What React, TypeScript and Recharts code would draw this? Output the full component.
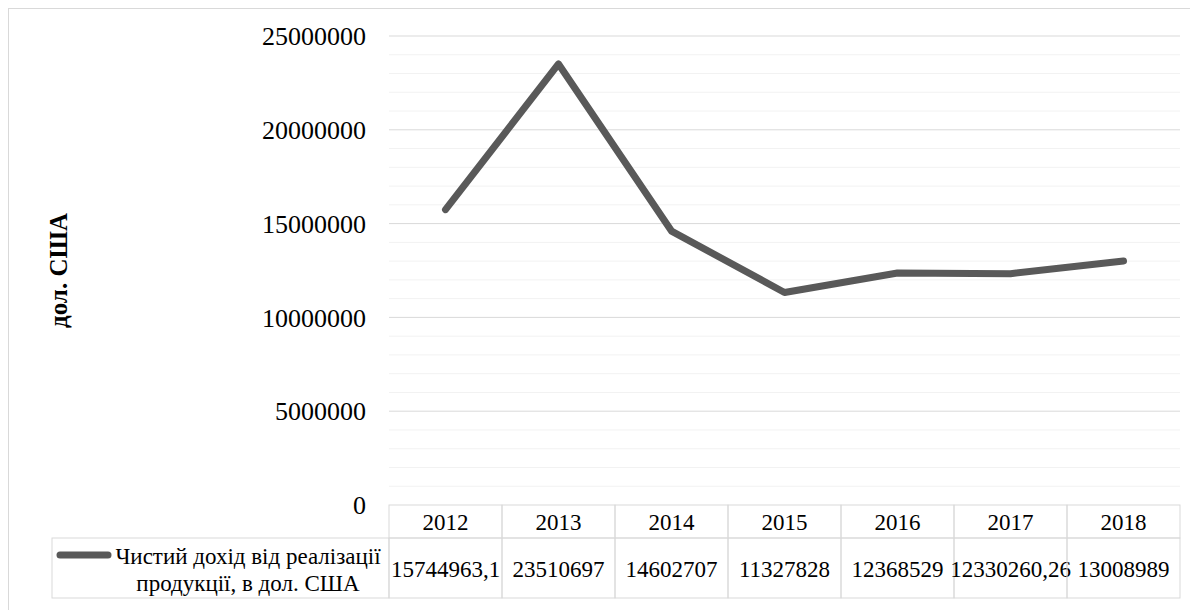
import { LineChart, Line, XAxis, YAxis, CartesianGrid } from "recharts";

const years = ["2012", "2013", "2014", "2015", "2016", "2017", "2018"];
const revenue = [15744963.1, 23510697, 14602707, 11327828, 12368529, 12330260.26, 13008989];
const seriesLines = ["Чистий дохід від реалізації", "продукції, в дол. США"];
const yAxisTitle = "дол. США";
const majorTicks = [0, 5000000, 10000000, 15000000, 20000000, 25000000];
const minorTicks = [
  1000000, 2000000, 3000000, 4000000, 6000000, 7000000, 8000000, 9000000,
  11000000, 12000000, 13000000, 14000000, 16000000, 17000000, 18000000, 19000000,
  21000000, 22000000, 23000000, 24000000,
];

const data = years.map((year, i) => ({ year, value: revenue[i] }));

const FONT = '"Liberation Serif", "Times New Roman", serif';
const LINE_COLOR = "#595959";
const BORDER = "#d9d9d9";
const HEAD_H = 33;
const ROW_H = 60;
const TABLE_FONT = 23;
const PLOT_W = 791;

const fmt = (v: number) => String(v).replace(".", ",");

const txt = { fontFamily: FONT, fontSize: TABLE_FONT };

// draws one column of the data table under the plot
const TableTick = (props: any) => {
  const { x, y, payload } = props;
  const idx = payload?.index ?? props.index ?? 0;
  const half = PLOT_W / years.length / 2;
  const left = x - half;
  const w = half * 2;
  return (
    <g>
      <rect x={left} y={y} width={w} height={HEAD_H} fill="none" stroke={BORDER} />
      <text x={x} y={y + HEAD_H / 2 + 1} textAnchor="middle" dominantBaseline="central" style={txt} fill="#000">
        {payload.value}
      </text>
      <rect x={left} y={y + HEAD_H} width={w} height={ROW_H} fill="none" stroke={BORDER} />
      <text x={x} y={y + HEAD_H + ROW_H / 2 + 1} textAnchor="middle" dominantBaseline="central" style={txt} fill="#000">
        {fmt(revenue[idx])}
      </text>
      {idx === 0 && (
        <g>
          <rect x={43} y={y + HEAD_H} width={left - 43} height={ROW_H} fill="none" stroke={BORDER} />
          <line x1={51} x2={99} y1={y + HEAD_H + 17} y2={y + HEAD_H + 17} stroke={LINE_COLOR} strokeWidth={7} strokeLinecap="round" />
          <text x={239} y={y + HEAD_H + 18} textAnchor="middle" dominantBaseline="central" style={txt} fill="#000">
            {seriesLines[0]}
          </text>
          <text x={239} y={y + HEAD_H + 45} textAnchor="middle" dominantBaseline="central" style={txt} fill="#000">
            {seriesLines[1]}
          </text>
        </g>
      )}
    </g>
  );
};

const AxisTitle = (props: any) => {
  const vb = props.viewBox || {};
  const cx = 49;
  const cy = (vb.y ?? 27) + (vb.height ?? 469) / 2;
  return (
    <text
      x={cx}
      y={cy}
      transform={`rotate(-90, ${cx}, ${cy})`}
      textAnchor="middle"
      dominantBaseline="central"
      style={{ fontFamily: FONT, fontWeight: "bold", fontSize: 25 }}
      fill="#000"
    >
      {yAxisTitle}
    </text>
  );
};

export default function App() {
  return (
    <div style={{ width: 1200, height: 620, border: `1px solid ${BORDER}`, background: "#fff" }}>
      <style>{"body{overflow:hidden}"}</style>
      <LineChart
        width={1200}
        height={620}
        data={data}
        margin={{ top: 27, right: 29, bottom: 31, left: 0 }}
      >
        <CartesianGrid vertical={false} horizontalValues={minorTicks} stroke="#f2f2f2" />
        <CartesianGrid vertical={false} horizontalValues={majorTicks.slice(1)} stroke={BORDER} />
        <XAxis
          dataKey="year"
          scale="band"
          interval={0}
          axisLine={false}
          tickLine={false}
          tickSize={0}
          tickMargin={0}
          height={HEAD_H + ROW_H}
          tick={<TableTick />}
        />
        <YAxis
          type="number"
          domain={[0, 25000000]}
          ticks={majorTicks}
          interval={0}
          axisLine={false}
          tickLine={false}
          tickSize={6}
          tickMargin={17}
          width={380}
          tick={{ fontSize: 26, fill: "#000", fontFamily: FONT }}
          label={<AxisTitle />}
        />
        <Line
          dataKey="value"
          stroke={LINE_COLOR}
          strokeWidth={7}
          strokeLinecap="round"
          strokeLinejoin="round"
          dot={false}
          activeDot={false}
          isAnimationActive={false}
        />
      </LineChart>
    </div>
  );
}
